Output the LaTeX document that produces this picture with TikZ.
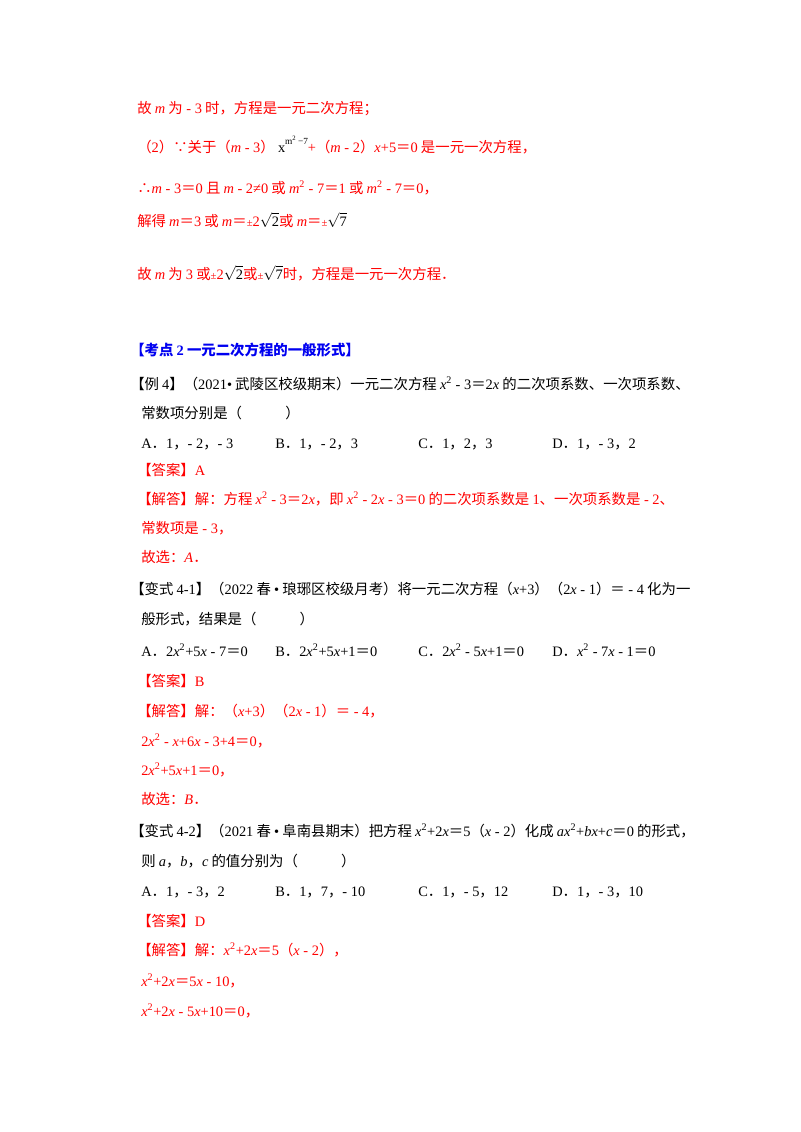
\documentclass[tikz,border=0pt]{standalone}
\usepackage{fontspec}
\setmainfont{Liberation Serif}
\newfontfamily\lat{Liberation Serif}
\newfontfamily\cjk{Noto Sans CJK SC}
\XeTeXinterchartokenstate=1
\newXeTeXintercharclass\cjkclass
\newXeTeXintercharclass\pnclass
\count255="4E00 \loop \XeTeXcharclass\count255=\cjkclass \advance\count255 1 \ifnum\count255<"A000 \repeat
\count255="3000 \loop \XeTeXcharclass\count255=\pnclass \advance\count255 1 \ifnum\count255<"3040 \repeat
\count255="FF00 \loop \XeTeXcharclass\count255=\pnclass \advance\count255 1 \ifnum\count255<"FFF0 \repeat
\XeTeXcharclass"2234=\pnclass \XeTeXcharclass"2235=\pnclass
\XeTeXinterchartoks 0 \cjkclass = {\hskip0.22em\cjk}
\XeTeXinterchartoks 4095 \cjkclass = {\cjk}
\XeTeXinterchartoks \cjkclass 0 = {\lat\hskip0.22em}
\XeTeXinterchartoks \cjkclass 4095 = {\lat}
\XeTeXinterchartoks 0 \pnclass = {\cjk}
\XeTeXinterchartoks 4095 \pnclass = {\cjk}
\XeTeXinterchartoks \pnclass 0 = {\lat}
\XeTeXinterchartoks \pnclass 4095 = {\lat}
\definecolor{rd}{RGB}{255,0,0}
\definecolor{bl}{RGB}{0,0,240}
\newcommand{\mi}[1]{\textit{#1}}
\newcommand{\gap}{\hskip0.22em}
\newcommand{\sq}[1]{{\color{black}$\sqrt{\mbox{#1}}$}}
\tikzset{t/.style={anchor=base west,inner sep=0pt,font=\fontsize{10.8}{12}\selectfont},
 r/.style={t,text=rd}, k/.style={t,text=black}, h/.style={t,text=bl,font=\fontsize{10.8}{12}\selectfont\bfseries}}
\begin{document}
\begin{tikzpicture}[x=0.75pt,y=-0.75pt]
\useasboundingbox[fill=white] (0,0) rectangle (800,1132);
\node[r] (l1) at (137,113) {故\gap\mi{m}\gap 为 - 3时，方程是一元二次方程；};
\node[r] (l2) at (137,152) {（2）∵关于（\mi{m} - 3）\gap{\color{black}x\raisebox{1.1ex}{\fontsize{7}{8}\selectfont m\textsuperscript{2}\,−7}}+（\mi{m} - 2）\mi{x}+5＝0是一元一次方程，};
\node[r] (l3) at (137,193) {∴\mi{m} - 3＝0且\gap\mi{m} - 2≠0或\gap\mi{m}\textsuperscript{2} - 7＝1或\gap\mi{m}\textsuperscript{2} - 7＝0，};
\node[r] (l4) at (137,226) {解得\gap\mi{m}＝3或\gap\mi{m}＝{\fontsize{8}{9}\selectfont ±}2\sq{2}或\gap\mi{m}＝{\fontsize{8}{9}\selectfont ±}\sq{7}};
\node[r] (l5) at (137,279) {故\gap\mi{m}\gap 为3或{\fontsize{8}{9}\selectfont ±}2\sq{2}或{\fontsize{8}{9}\selectfont ±}\sq{7}时，方程是一元一次方程．};
\node[h] (l6) at (130,355) {【考点\gap 2\gap 一元二次方程的一般形式】};
\node[k] (l7) at (130,389) {【例4】（2021•武陵区校级期末）一元二次方程\gap\mi{x}\textsuperscript{2} - 3＝2\mi{x}\gap 的二次项系数、一次项系数、};
\node[k] (l8) at (141,418) {常数项分别是（\qquad\quad）};
\node[k] (a1) at (141,448) {A．1，- 2，- 3};
\node[k] (b1) at (275,448) {B．1，- 2，3};
\node[k] (c1) at (418,448) {C．1，2，3};
\node[k] (d1) at (552,448) {D．1，- 3，2};
\node[r] (l10) at (137,475) {【答案】A};
\node[r] (l11) at (137,504) {【解答】解：方程\gap\mi{x}\textsuperscript{2} - 3＝2\mi{x}，即\gap\mi{x}\textsuperscript{2} - 2\mi{x} - 3＝0的二次项系数是1、一次项系数是 - 2、};
\node[r] (l12) at (141,533) {常数项是 - 3，};
\node[r] (l13) at (141,562) {故选：\mi{A}．};
\node[k] (l14) at (130,594) {【变式4-1】（2022春•琅琊区校级月考）将一元二次方程（\mi{x}+3）（2\mi{x} - 1）＝ - 4化为一};
\node[k] (l15) at (141,624) {般形式，结果是（\qquad\quad）};
\node[k] (a2) at (141,656) {A．2\mi{x}\textsuperscript{2}+5\mi{x} - 7＝0};
\node[k] (b2) at (275,656) {B．2\mi{x}\textsuperscript{2}+5\mi{x}+1＝0};
\node[k] (c2) at (418,656) {C．2\mi{x}\textsuperscript{2} - 5\mi{x}+1＝0};
\node[k] (d2) at (552,656) {D．\mi{x}\textsuperscript{2} - 7\mi{x} - 1＝0};
\node[r] (l17) at (137,686) {【答案】B};
\node[r] (l18) at (137,716) {【解答】解：（\mi{x}+3）（2\mi{x} - 1）＝ - 4，};
\node[r] (l19) at (141,746) {2\mi{x}\textsuperscript{2} - \mi{x}+6\mi{x} - 3+4＝0，};
\node[r] (l20) at (141,775) {2\mi{x}\textsuperscript{2}+5\mi{x}+1＝0，};
\node[r] (l21) at (141,804) {故选：\mi{B}．};
\node[k] (l22) at (130,836) {【变式4-2】（2021春•阜南县期末）把方程\gap\mi{x}\textsuperscript{2}+2\mi{x}＝5（\mi{x} - 2）化成\gap\mi{ax}\textsuperscript{2}+\mi{bx}+\mi{c}＝0的形式，};
\node[k] (l23) at (141,866) {则\gap\mi{a}，\mi{b}，\mi{c}\gap 的值分别为（\qquad\quad）};
\node[k] (a3) at (141,896) {A．1，- 3，2};
\node[k] (b3) at (275,896) {B．1，7，- 10};
\node[k] (c3) at (418,896) {C．1，- 5，12};
\node[k] (d3) at (552,896) {D．1，- 3，10};
\node[r] (l25) at (137,926) {【答案】D};
\node[r] (l26) at (137,955) {【解答】解：\mi{x}\textsuperscript{2}+2\mi{x}＝5（\mi{x} - 2），};
\node[r] (l27) at (141,986) {\mi{x}\textsuperscript{2}+2\mi{x}＝5\mi{x} - 10，};
\node[r] (l28) at (141,1016) {\mi{x}\textsuperscript{2}+2\mi{x} - 5\mi{x}+10＝0，};
\end{tikzpicture}
\end{document}
